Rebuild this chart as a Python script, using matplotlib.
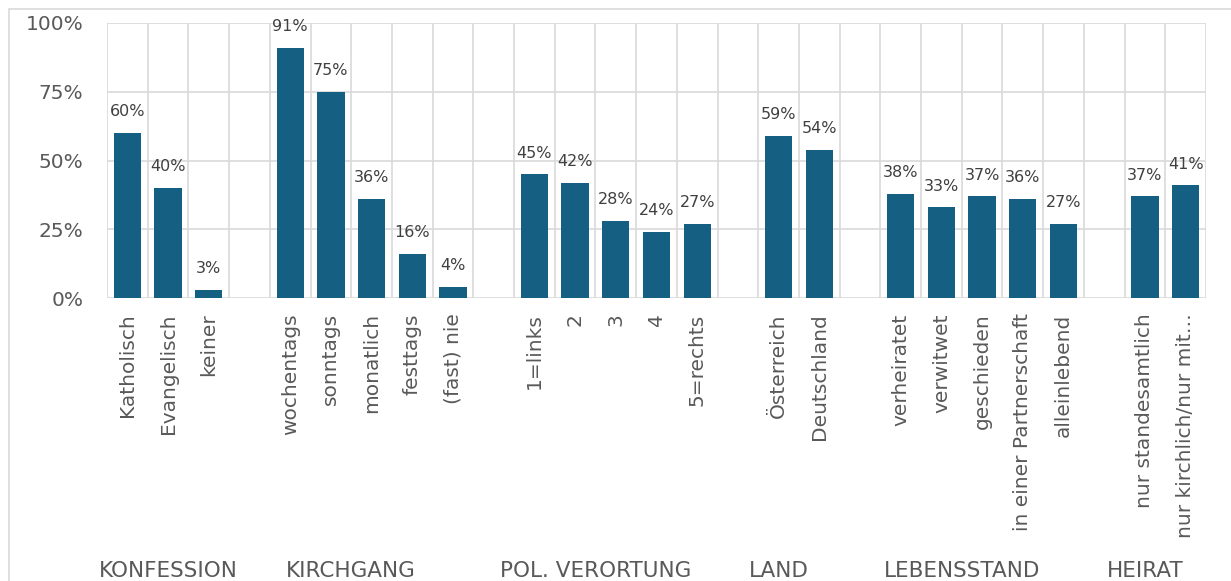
import numpy as np
import matplotlib
matplotlib.use("Agg")
import matplotlib.pyplot as plt
from matplotlib.patches import Rectangle
from matplotlib.transforms import blended_transform_factory

# Data (percent)
groups = ['KONFESSION', 'KIRCHGANG', 'POL. VERORTUNG', 'LAND', 'LEBENSSTAND', 'HEIRAT']
konfession_cats = ['Katholisch', 'Evangelisch', 'keiner']
konfession_vals = [60, 40, 3]
kirchgang_cats = ['wochentags', 'sonntags', 'monatlich', 'festtags', '(fast) nie']
kirchgang_vals = [91, 75, 36, 16, 4]
pol_cats = ['1=links', '2', '3', '4', '5=rechts']
pol_vals = [45, 42, 28, 24, 27]
land_cats = ['Österreich', 'Deutschland']
land_vals = [59, 54]
leben_cats = ['verheiratet', 'verwitwet', 'geschieden', 'in einer Partnerschaft', 'alleinlebend']
leben_vals = [38, 33, 37, 36, 27]
heirat_cats = ['nur standesamtlich', 'nur kirchlich/nur mit…']
heirat_vals = [37, 41]
y_ticks = [0, 25, 50, 75, 100]

group_cats = [konfession_cats, kirchgang_cats, pol_cats, land_cats, leben_cats, heirat_cats]
group_vals = [konfession_vals, kirchgang_vals, pol_vals, land_vals, leben_vals, heirat_vals]

# every group after the first starts with an empty slot
positions, labels, values, group_centers = [], [], [], []
slot = 0
for gi, (cats, vals) in enumerate(zip(group_cats, group_vals)):
    start = slot
    if gi > 0:
        labels.append('')
        positions_blank = slot
        slot += 1
    for c, v in zip(cats, vals):
        positions.append(slot)
        labels.append(c)
        values.append(v)
        slot += 1
    group_centers.append((start + slot - 1) / 2)
n_slots = slot

plt.rcParams['font.family'] = 'DejaVu Sans'
bar_color = '#156082'
grid_color = '#d9d9d9'
text_color = '#595959'

fig = plt.figure(figsize=(12.31, 5.81), dpi=100)
ax = fig.add_axes([107 / 1231, 1 - 298 / 581, (1206 - 107) / 1231, (298 - 23) / 581])

ax.bar(positions, values, width=0.67, color=bar_color, zorder=3)

for x, v in zip(positions, values):
    ax.annotate(f"{v}%", (x, v), xytext=(0, 12), textcoords='offset points',
                ha='center', va='baseline', fontsize=11.5, color='#404040')

ax.set_xlim(-0.5, n_slots - 0.5)
ax.set_ylim(0, 100)
ax.set_yticks(y_ticks)
ax.set_yticklabels([f"{t}%" for t in y_ticks])
ax.set_xticks(range(n_slots))
ax.set_xticklabels(labels, rotation=90, va='top', ha='center')
ax.set_xticks(np.arange(-0.5, n_slots, 1.0), minor=True)

ax.tick_params(axis='y', length=0, pad=17, labelsize=14.5, labelcolor=text_color)
ax.tick_params(axis='x', which='major', length=0, pad=11, labelsize=14.5, labelcolor=text_color)
ax.tick_params(axis='x', which='minor', length=0)

ax.grid(axis='y', which='major', color=grid_color, lw=1.2, zorder=0)
ax.grid(axis='x', which='minor', color=grid_color, lw=1.2, zorder=0)
ax.grid(axis='x', which='major', visible=False)
for s in ax.spines.values():
    s.set_visible(False)

# group labels under the category labels
trans = blended_transform_factory(ax.transData, fig.transFigure)
for g, cx in zip(groups, group_centers):
    ax.text(cx, 1 - 577 / 581, g, transform=trans, ha='center', va='baseline',
            fontsize=15.5, color=text_color)

# light frame around the chart area
fig.patches.append(Rectangle((9 / 1231, -0.1), 1.2, 1 - 9 / 581 + 0.1,
                             transform=fig.transFigure, fill=False,
                             ec=grid_color, lw=1.2))

fig.savefig("out.png", dpi=100)
